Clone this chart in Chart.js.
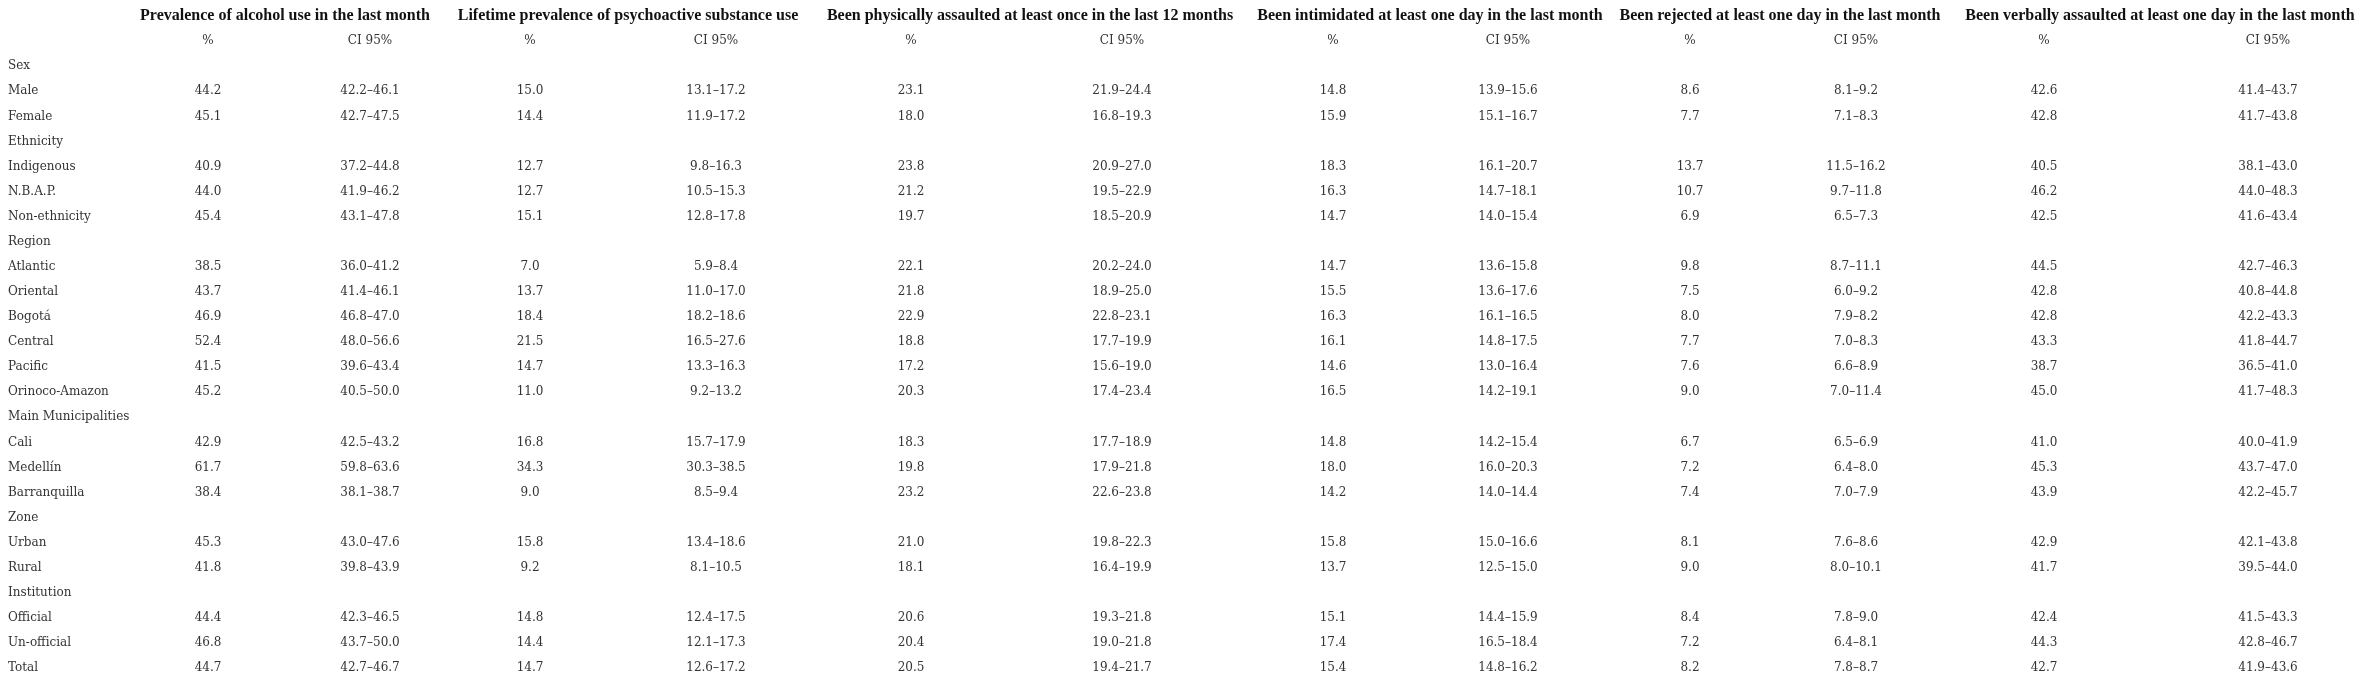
<!DOCTYPE html>
<html lang="en">
<head>
<meta charset="UTF-8">
<title>Prevalence table</title>
<style>
  body { margin: 0; background: #fff; }
  #wrap { width: 2371px; height: 683px; }
</style>
<script src="https://cdn.jsdelivr.net/npm/chart.js"></script>
</head>
<body>
<div id="wrap"><canvas id="tbl"></canvas></div>
<script>
// row labels; groups have no values
const rowLabels = ['Sex','Male','Female','Ethnicity','Indigenous','N.B.A.P.','Non-ethnicity','Region','Atlantic','Oriental','Bogotá','Central','Pacific','Orinoco-Amazon','Main Municipalities','Cali','Medellín','Barranquilla','Zone','Urban','Rural','Institution','Official','Un-official','Total'];
const groupRows = ['Sex','Ethnicity','Region','Main Municipalities','Zone','Institution'];

const indicators = [
  'Prevalence of alcohol use in the last month',
  'Lifetime prevalence of psychoactive substance use',
  'Been physically assaulted at least once in the last 12 months',
  'Been intimidated at least one day in the last month',
  'Been rejected at least one day in the last month',
  'Been verbally assaulted at least one day in the last month'
];

const alcoholPct = [44.2,45.1,40.9,44.0,45.4,38.5,43.7,46.9,52.4,41.5,45.2,42.9,61.7,38.4,45.3,41.8,44.4,46.8,44.7];
const alcoholCI = ['42.2-46.1','42.7-47.5','37.2-44.8','41.9-46.2','43.1-47.8','36.0-41.2','41.4-46.1','46.8-47.0','48.0-56.6','39.6-43.4','40.5-50.0','42.5-43.2','59.8-63.6','38.1-38.7','43.0-47.6','39.8-43.9','42.3-46.5','43.7-50.0','42.7-46.7'];
const substancePct = [15.0,14.4,12.7,12.7,15.1,7.0,13.7,18.4,21.5,14.7,11.0,16.8,34.3,9.0,15.8,9.2,14.8,14.4,14.7];
const substanceCI = ['13.1-17.2','11.9-17.2','9.8-16.3','10.5-15.3','12.8-17.8','5.9-8.4','11.0-17.0','18.2-18.6','16.5-27.6','13.3-16.3','9.2-13.2','15.7-17.9','30.3-38.5','8.5-9.4','13.4-18.6','8.1-10.5','12.4-17.5','12.1-17.3','12.6-17.2'];
const physicalPct = [23.1,18.0,23.8,21.2,19.7,22.1,21.8,22.9,18.8,17.2,20.3,18.3,19.8,23.2,21.0,18.1,20.6,20.4,20.5];
const physicalCI = ['21.9-24.4','16.8-19.3','20.9-27.0','19.5-22.9','18.5-20.9','20.2-24.0','18.9-25.0','22.8-23.1','17.7-19.9','15.6-19.0','17.4-23.4','17.7-18.9','17.9-21.8','22.6-23.8','19.8-22.3','16.4-19.9','19.3-21.8','19.0-21.8','19.4-21.7'];
const intimidatedPct = [14.8,15.9,18.3,16.3,14.7,14.7,15.5,16.3,16.1,14.6,16.5,14.8,18.0,14.2,15.8,13.7,15.1,17.4,15.4];
const intimidatedCI = ['13.9-15.6','15.1-16.7','16.1-20.7','14.7-18.1','14.0-15.4','13.6-15.8','13.6-17.6','16.1-16.5','14.8-17.5','13.0-16.4','14.2-19.1','14.2-15.4','16.0-20.3','14.0-14.4','15.0-16.6','12.5-15.0','14.4-15.9','16.5-18.4','14.8-16.2'];
const rejectedPct = [8.6,7.7,13.7,10.7,6.9,9.8,7.5,8.0,7.7,7.6,9.0,6.7,7.2,7.4,8.1,9.0,8.4,7.2,8.2];
const rejectedCI = ['8.1-9.2','7.1-8.3','11.5-16.2','9.7-11.8','6.5-7.3','8.7-11.1','6.0-9.2','7.9-8.2','7.0-8.3','6.6-8.9','7.0-11.4','6.5-6.9','6.4-8.0','7.0-7.9','7.6-8.6','8.0-10.1','7.8-9.0','6.4-8.1','7.8-8.7'];
const verbalPct = [42.6,42.8,40.5,46.2,42.5,44.5,42.8,42.8,43.3,38.7,45.0,41.0,45.3,43.9,42.9,41.7,42.4,44.3,42.7];
const verbalCI = ['41.4-43.7','41.7-43.8','38.1-43.0','44.0-48.3','41.6-43.4','42.7-46.3','40.8-44.8','42.2-43.3','41.8-44.7','36.5-41.0','41.7-48.3','40.0-41.9','43.7-47.0','42.2-45.7','42.1-43.8','39.5-44.0','41.5-43.3','42.8-46.7','41.9-43.6'];

const pctSeries = [alcoholPct, substancePct, physicalPct, intimidatedPct, rejectedPct, verbalPct];
const ciSeries = [alcoholCI, substanceCI, physicalCI, intimidatedCI, rejectedCI, verbalCI];

// layout (x positions in scale units = pixels)
const headerX = [285, 628, 1030, 1430, 1780, 2160];
const pctX = [208, 530, 911, 1333, 1690, 2044];
const ciX = [370, 716, 1122, 1508, 1856, 2268];
const labelX = 8;

// y: row 0 = header, row 1 = sub-header, then table rows
const dataRowIdx = [];
rowLabels.forEach((r, i) => { if (!groupRows.includes(r)) dataRowIdx.push(i + 2); });

const textPts = [];
indicators.forEach((t, c) => {
  textPts.push({x: headerX[c], y: 0, label: t, kind: 'head'});
  textPts.push({x: pctX[c], y: 1, label: '%', kind: 'body'});
  textPts.push({x: ciX[c], y: 1, label: 'CI 95%', kind: 'body'});
  pctSeries[c].forEach((v, k) => textPts.push({x: pctX[c], y: dataRowIdx[k], label: v.toFixed(1), kind: 'body'}));
  ciSeries[c].forEach((v, k) => textPts.push({x: ciX[c], y: dataRowIdx[k], label: v.replace('-', '–'), kind: 'body'}));
});
const labelPts = rowLabels.map((r, i) => ({x: labelX, y: i + 2, label: r, kind: 'row'}));

const textPlugin = {
  id: 'cellText',
  afterDatasetsDraw(chart) {
    const ctx = chart.ctx;
    ctx.save();
    ctx.textBaseline = 'middle';
    chart.data.datasets.forEach((ds, di) => {
      chart.getDatasetMeta(di).data.forEach((el, i) => {
        const p = ds.data[i];
        if (p.kind === 'head') {
          ctx.font = 'bold 16px "Liberation Serif"';
          ctx.fillStyle = '#111';
          ctx.textAlign = 'center';
        } else {
          ctx.font = '12px "DejaVu Serif"';
          ctx.fillStyle = '#333';
          ctx.textAlign = p.kind === 'row' ? 'left' : 'center';
        }
        ctx.fillText(p.label, el.x, el.y);
      });
    });
    ctx.restore();
  }
};

new Chart(document.getElementById('tbl'), {
  type: 'scatter',
  data: {
    datasets: [
      {data: textPts, pointRadius: 0},
      {data: labelPts, pointRadius: 0}
    ]
  },
  options: {
    responsive: true,
    maintainAspectRatio: false,
    animation: false,
    layout: {padding: 0},
    plugins: {legend: {display: false}, tooltip: {enabled: false}},
    scales: {
      x: {type: 'linear', min: 0, max: 2371, display: false},
      y: {type: 'linear', min: -0.64, max: 26.59, reverse: true, display: false}
    }
  },
  plugins: [textPlugin]
});
</script>
</body>
</html>
